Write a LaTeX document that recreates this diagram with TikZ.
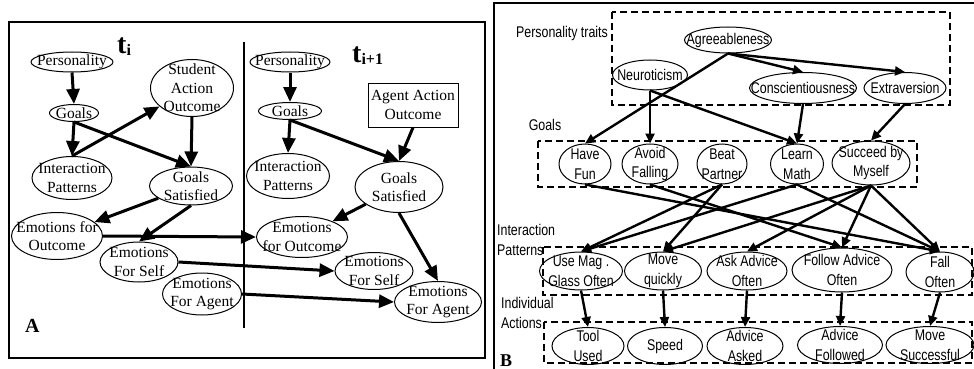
\documentclass[tikz,border=0pt]{standalone}
\usepackage{fontspec}
\setmainfont{Liberation Serif}
\newfontfamily\arialn[FakeStretch=0.8]{Liberation Sans}
\usetikzlibrary{arrows.meta,positioning,shapes.geometric}
\newcommand{\tmfont}{\fontsize{15.5}{18.5}\selectfont}
\newcommand{\arfont}{\arialn\fontsize{15.5}{19.5}\selectfont}
\tikzset{
  st/.style={ellipse, draw, line width=1pt, inner sep=0pt},
  sz/.style 2 args={minimum width=#1pt, minimum height=#2pt},
  tmlab/.style={align=center, font=\tmfont, inner sep=0pt},
  arlab/.style={align=center, font=\arfont, inner sep=0pt},
  tm/.style={label={[tmlab]center:#1}},
  ar/.style={label={[arlab]center:#1}},
  flow/.style={-{Triangle[length=15pt,width=13pt]}, line width=3pt},
  tflow/.style={-{Triangle[length=10pt,width=9pt]}, line width=2.4pt},
  grp/.style={draw, line width=2.2pt, dash pattern=on 7pt off 4pt},
  lbl/.style={font=\arfont, align=left, inner sep=0pt},
  big/.style={font=\fontsize{20}{20}\selectfont\bfseries, inner sep=0pt, anchor=base west}
}

\begin{document}
\begin{tikzpicture}[x=1pt, y=-1pt]
 \useasboundingbox (0,0) rectangle (974,369);
 % panel A
 \draw[line width=1.5pt] (9,22) rectangle (485,358);
 \draw[line width=1.5pt] (244,42) -- (244,328);
 \node[big, font=\fontsize{28}{28}\selectfont\bfseries] (ti) at (117,53) {t\raisebox{-2pt}{\fontsize{16}{16}\selectfont i}};
 \node[big, font=\fontsize{28}{28}\selectfont\bfseries] (tii) at (352,63) {t\raisebox{-2pt}{\fontsize{16}{16}\selectfont i+1}};
 \node[big] (lA) at (25,332) {A};
 \node[st, sz={82}{20}, tm=Personality] (p1) at (72,62) {};
 \node[st, sz={49}{17}, tm=Goals] (g1) at (74,113) {};
 \node[st, sz={83}{57}, tm={Student\\Action\\Outcome}] (sao) at (192,88) {};
 \node[st, sz={80}{43}, tm={Interaction\\Patterns}] (ip1) at (72,178) {};
 \node[st, sz={83}{38}, tm={Goals\\Satisfied}] (gs1) at (191,186) {};
 \node[st, sz={91}{47}, tm={Emotions for\\Outcome}] (eo1) at (57,236) {};
 \node[st, sz={78}{40}, tm={Emotions\\For Self}] (es1) at (139,262) {};
 \node[st, sz={79}{42}, tm={Emotions\\For Agent}] (ea1) at (202,294) {};
 \node[st, sz={80}{20}, tm=Personality] (p2) at (290,62) {};
 \node[st, sz={63}{17}, tm=Goals] (g2) at (290,111) {};
 \node[rectangle, draw, line width=1pt, sz={90}{44}, tm={Agent Action\\Outcome}] (aao) at (413,105) {};
 \node[st, sz={83}{45}, tm={Interaction\\Patterns}] (ip2) at (288,176) {};
 \node[st, sz={88}{51}, tm={Goals\\Satisfied}] (gs2) at (399,187) {};
 \node[st, sz={91}{41}, tm={Emotions\\for Outcome}] (eo2) at (302,237) {};
 \node[st, sz={78}{37}, tm={Emotions\\For Self}] (es2) at (374,271) {};
 \node[st, sz={87}{41}, tm={Emotions\\For Agent}] (ea2) at (438,302) {};
 \draw[flow](p1.south)--(g1.north);\draw[flow](g1.south)--(ip1.north);\draw[flow](ip1.north)--(sao);
 \draw[flow](g1.south)--(gs1.north);\draw[flow](sao.south)--(gs1.north);
 \draw[flow](gs1)--(eo1);\draw[flow](gs1.south)--(es1.north);
 \draw[flow](eo1.east)--(eo2.west);\draw[flow](es1.east)--(es2.west);\draw[flow](ea1.east)--(ea2.west);
 \draw[flow](p2.south)--(g2.north);\draw[flow](g2.south)--(ip2.north);\draw[flow](g2.south)--(gs2.north);
 \draw[flow](aao.south)--(gs2.north);\draw[flow](gs2)--(eo2);\draw[flow](gs2.south)--(ea2.north);
 % panel B
 \draw[line width=2pt] (494,369) -- (494,3) -- (974,3);
 \draw[grp] (612,12) rectangle (950,105);
 \draw[grp] (538,141) rectangle (917,187);
 \draw[grp] (543,247) rectangle (972,295);
 \draw[grp] (544,322) rectangle (972,363);
 \node[lbl] (lP) at (562,33) {Personality traits};
 \node[lbl] (lG) at (545,125) {Goals};
 \node[lbl, anchor=west] (lI) at (497,240) {Interaction\\Patterns};
 \node[lbl, anchor=west] (lAc) at (501,313) {Individual\\Actions};
 \node[big, font=\fontsize{18}{18}\selectfont\bfseries] (lB) at (500,366) {B};
 \node[st, sz={87}{26}, ar=Agreeableness] (ag) at (728,40) {};
 \node[st, sz={75}{30}, ar=Neuroticism] (ne) at (650,75) {};
 \node[st, sz={107}{31}, ar=Conscientiousness] (co) at (803,88) {};
 \node[st, sz={82}{31}, ar=Extraversion] (ex) at (905,88) {};
 \node[st, sz={52}{40}, ar={Have\\Fun}] (hf) at (585,164) {};
 \node[st, sz={56}{40}, ar={Avoid\\Falling}] (af) at (650,164) {};
 \node[st, sz={50}{40}, ar={Beat\\Partner}] (bp) at (722,164) {};
 \node[st, sz={53}{40}, ar={Learn\\Math}] (lm) at (797,164) {};
 \node[st, sz={78}{44}, ar={Succeed by\\Myself}] (sm) at (871,163) {};
 \node[st, sz={83}{38}, ar={Use Mag .\\Glass Often}] (um) at (581,271) {};
 \node[st, sz={77}{38}, ar={Move\\quickly}] (mq) at (663,271) {};
 \node[st, sz={80}{38}, ar={Ask Advice\\Often}] (aa) at (747,271) {};
 \node[st, sz={100}{44}, ar={Follow Advice\\Often}] (fa) at (842,270) {};
 \node[st, sz={68}{40}, ar={Fall\\Often}] (fo) at (940,272) {};
 \node[st, sz={72}{37}, ar={Tool\\Used}] (tu) at (588,346) {};
 \node[st, sz={75}{37}, ar=Speed] (sp) at (665,346) {};
 \node[st, sz={76}{37}, ar={Advice\\Asked}] (as) at (745,346) {};
 \node[st, sz={85}{37}, ar={Advice\\Followed}] (afd) at (840,345) {};
 \node[st, sz={88}{37}, ar={Move\\Successful}] (ms) at (930,345) {};
 \draw[tflow](ag.south)--(hf.north);\draw[tflow](ag.south)--(co.north);\draw[tflow](ag.south)--(ex.north);
 \draw[tflow](ne.south)--(af.north);\draw[tflow](ne.south)--(lm.north);
 \draw[tflow](co.south)--(lm.north);\draw[tflow](ex.south)--(sm.north);
 \draw[tflow](hf.south)--(fo.north);\draw[tflow](af.south)--(fa.north);
 \draw[tflow](bp.south)--(um.north);\draw[tflow](bp.south)--(mq.north);
 \draw[tflow](lm.south)--(um.north);\draw[tflow](lm.south)--(fo.north);
 \draw[tflow](sm.south)--(mq.north);\draw[tflow](sm.south)--(aa.north);\draw[tflow](sm.south)--(fa.north);\draw[tflow](sm.south)--(fo.north);
 \draw[tflow](um.south)--(tu.north);\draw[tflow](mq.south)--(sp.north);\draw[tflow](aa.south)--(as.north);
 \draw[tflow](fa.south)--(afd.north);\draw[tflow](fo.south)--(ms.north);
\end{tikzpicture}
\end{document}
